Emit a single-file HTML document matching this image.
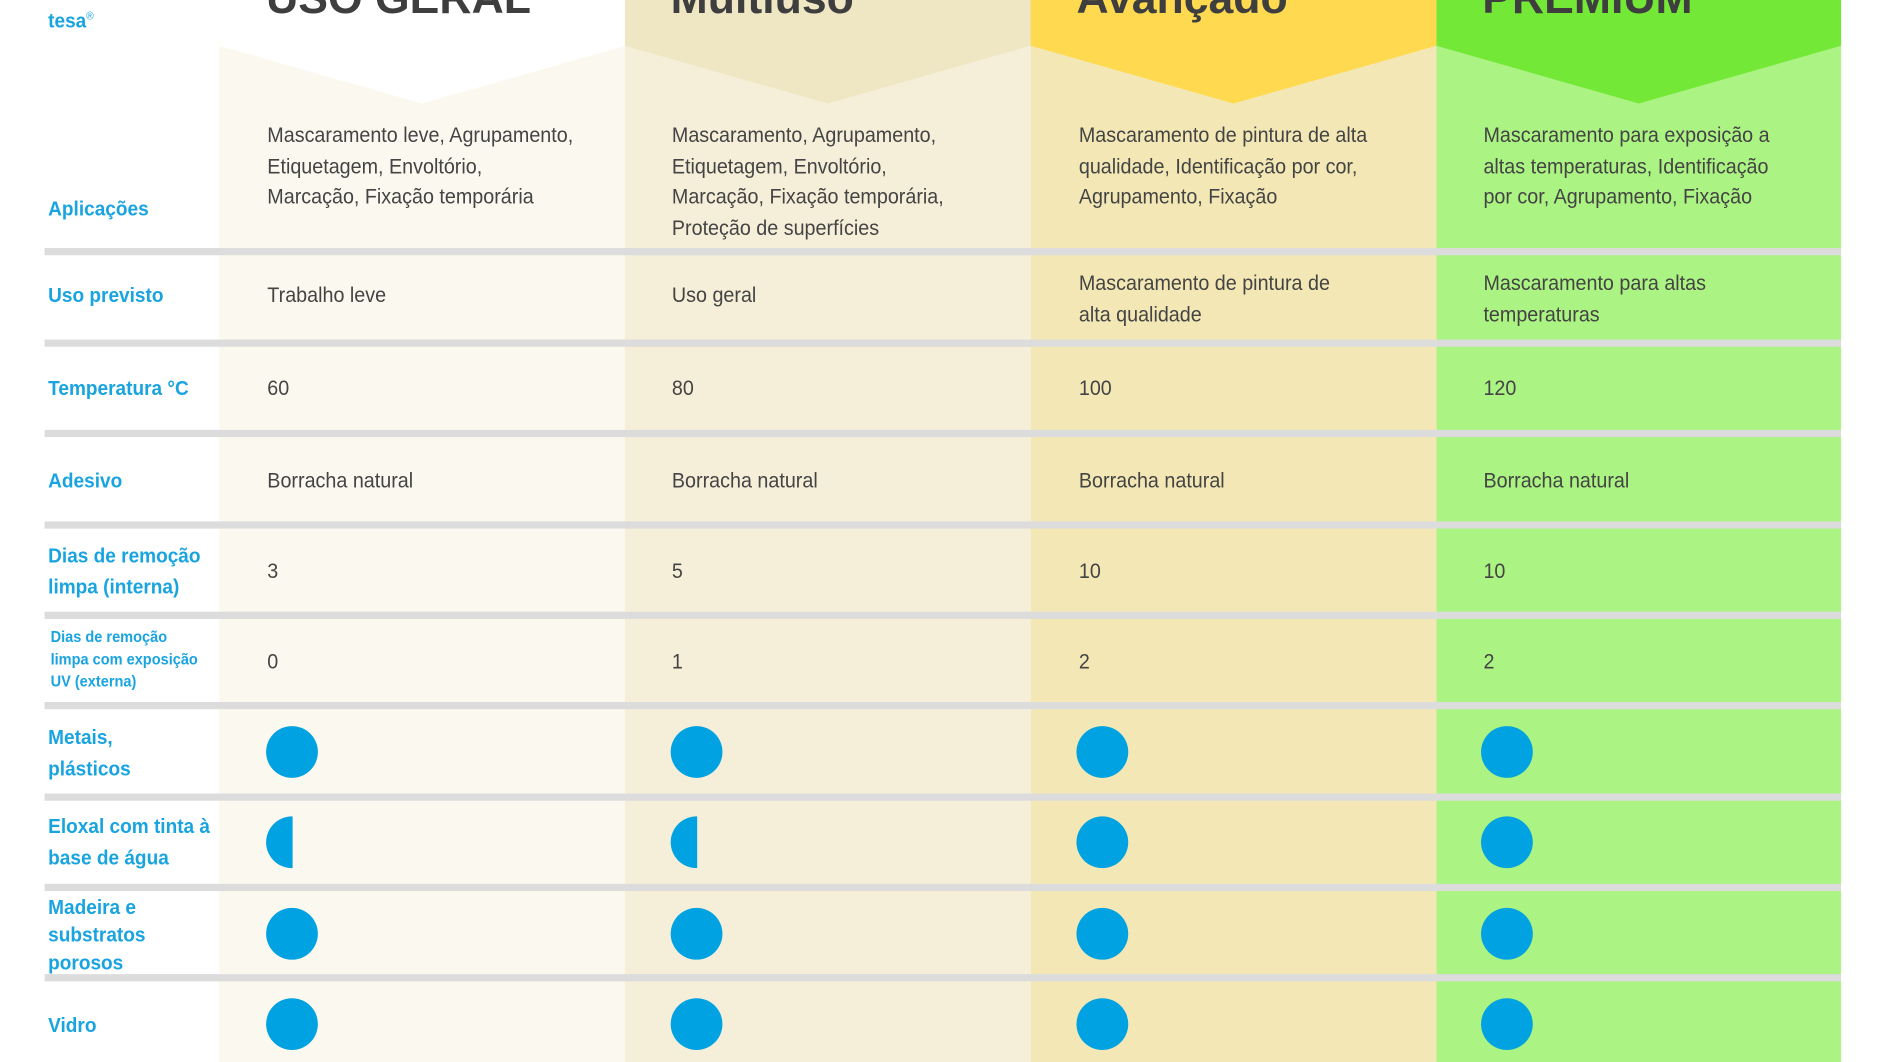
<!DOCTYPE html>
<html><head><meta charset="utf-8"><style>
html,body{margin:0;padding:0;background:#fff;overflow:hidden}
#w{position:relative;width:1568px;height:882px;transform:scale(1.2041);transform-origin:0 0;font-family:"Liberation Sans Narrow","Liberation Sans",sans-serif;}
.col{position:absolute;top:0;height:882px}
.sep{position:absolute;left:37px;width:1492px;height:6px;background:#dcdcdc}
.t{position:absolute;font-size:18px;line-height:25.5px;color:#444;white-space:nowrap;transform:scaleX(0.91);transform-origin:0 0;margin-top:1px}
.l{position:absolute;left:40px;font-size:17px;line-height:25.5px;color:#19a4e0;font-weight:bold;white-space:nowrap;transform:scaleX(0.93);transform-origin:0 0;margin-top:1px}
.h{position:absolute;top:-22px;font-family:"Liberation Sans",sans-serif;font-weight:bold;font-size:37px;color:#3e3e3e;white-space:nowrap}
.c{position:absolute;width:43px;height:43px;border-radius:50%;background:#00a2e2}
.hc{position:absolute;width:21.5px;height:43px;border-radius:21.5px 0 0 21.5px;background:#00a2e2}
</style></head><body><div id="w">
<div class="col" style="left:182px;width:337px;background:#fbf9ef"></div>
<div class="col" style="left:519px;width:337px;background:#f5efd9"></div>
<div class="col" style="left:856px;width:337px;background:#f3e8b5"></div>
<div class="col" style="left:1193px;width:336px;background:#abf382"></div>
<svg style="position:absolute;left:0;top:0" width="1568" height="100">
<polygon points="182,0 519,0 519,38 350.5,86 182,38" fill="#ffffff"/>
<polygon points="519,0 856,0 856,38 687.5,86 519,38" fill="#efe6c4"/>
<polygon points="856,0 1193,0 1193,38 1024.5,86 856,38" fill="#ffd94f"/>
<polygon points="1193,0 1529,0 1529,38 1361,86 1193,38" fill="#74e836"/>
</svg>
<div class="h" style="left:221px">USO GERAL</div>
<div class="h" style="left:557px">Multiuso</div>
<div class="h" style="left:894px">Avançado</div>
<div class="h" style="left:1231px">PREMIUM</div>
<div class="l" style="top:0px;font-weight:bold">tesa<sup style="font-size:9px;font-weight:normal">®</sup></div>

<div class="sep" style="top:206px"></div><div class="sep" style="top:282px"></div><div class="sep" style="top:357px"></div>
<div class="sep" style="top:433px"></div><div class="sep" style="top:508px"></div><div class="sep" style="top:583px"></div>
<div class="sep" style="top:659px"></div><div class="sep" style="top:734px"></div><div class="sep" style="top:809px"></div>

<div class="l" style="top:160px">Aplicações</div>
<div class="t" style="left:222px;top:99px">Mascaramento leve, Agrupamento,<br>Etiquetagem, Envoltório,<br>Marcação, Fixação temporária</div>
<div class="t" style="left:558px;top:99px">Mascaramento, Agrupamento,<br>Etiquetagem, Envoltório,<br>Marcação, Fixação temporária,<br>Proteção de superfícies</div>
<div class="t" style="left:896px;top:99px">Mascaramento de pintura de alta<br>qualidade, Identificação por cor,<br>Agrupamento, Fixação</div>
<div class="t" style="left:1232px;top:99px">Mascaramento para exposição a<br>altas temperaturas, Identificação<br>por cor, Agrupamento, Fixação</div>

<div class="l" style="top:232px">Uso previsto</div>
<div class="t" style="left:222px;top:232px">Trabalho leve</div>
<div class="t" style="left:558px;top:232px">Uso geral</div>
<div class="t" style="left:896px;top:222px">Mascaramento de pintura de<br>alta qualidade</div>
<div class="t" style="left:1232px;top:222px">Mascaramento para altas<br>temperaturas</div>

<div class="l" style="top:309px">Temperatura °C</div>
<div class="t" style="left:222px;top:309px">60</div><div class="t" style="left:558px;top:309px">80</div>
<div class="t" style="left:896px;top:309px">100</div><div class="t" style="left:1232px;top:309px">120</div>

<div class="l" style="top:386px">Adesivo</div>
<div class="t" style="left:222px;top:386px">Borracha natural</div><div class="t" style="left:558px;top:386px">Borracha natural</div>
<div class="t" style="left:896px;top:386px">Borracha natural</div><div class="t" style="left:1232px;top:386px">Borracha natural</div>

<div class="l" style="top:448px">Dias de remoção<br>limpa (interna)</div>
<div class="t" style="left:222px;top:461px">3</div><div class="t" style="left:558px;top:461px">5</div>
<div class="t" style="left:896px;top:461px">10</div><div class="t" style="left:1232px;top:461px">10</div>

<div class="l" style="top:519px;left:42px;font-size:13px;line-height:18.5px">Dias de remoção<br>limpa com exposição<br>UV (externa)</div>
<div class="t" style="left:222px;top:536px">0</div><div class="t" style="left:558px;top:536px">1</div>
<div class="t" style="left:896px;top:536px">2</div><div class="t" style="left:1232px;top:536px">2</div>

<div class="l" style="top:599px">Metais,<br>plásticos</div>
<div class="c" style="left:221px;top:603px"></div><div class="c" style="left:557px;top:603px"></div>
<div class="c" style="left:894px;top:603px"></div><div class="c" style="left:1230px;top:603px"></div>

<div class="l" style="top:673px">Eloxal com tinta à<br>base de água</div>
<div class="hc" style="left:221px;top:678px"></div><div class="hc" style="left:557px;top:678px"></div>
<div class="c" style="left:894px;top:678px"></div><div class="c" style="left:1230px;top:678px"></div>

<div class="l" style="top:741px;line-height:23px">Madeira e<br>substratos<br>porosos</div>
<div class="c" style="left:221px;top:754px"></div><div class="c" style="left:557px;top:754px"></div>
<div class="c" style="left:894px;top:754px"></div><div class="c" style="left:1230px;top:754px"></div>

<div class="l" style="top:838px">Vidro</div>
<div class="c" style="left:221px;top:829px"></div><div class="c" style="left:557px;top:829px"></div>
<div class="c" style="left:894px;top:829px"></div><div class="c" style="left:1230px;top:829px"></div>
</div></body></html>
